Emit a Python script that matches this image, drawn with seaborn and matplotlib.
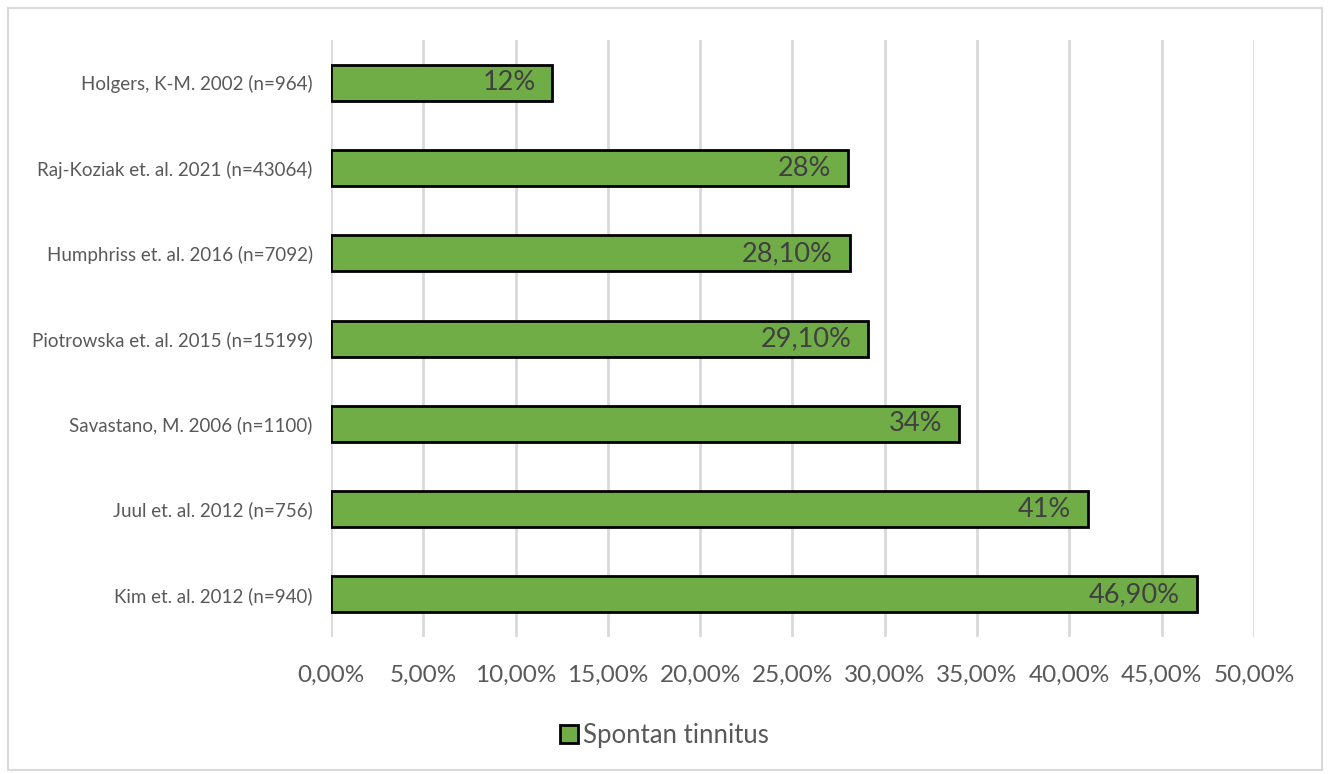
import matplotlib
matplotlib.use("Agg")
import matplotlib.pyplot as plt
import seaborn as sns
import pandas as pd
from matplotlib.patches import Patch, Rectangle
from matplotlib.ticker import FuncFormatter

categories = [
    "Holgers, K-M. 2002 (n=964)",
    "Raj-Koziak et. al. 2021 (n=43064)",
    "Humphriss et. al. 2016 (n=7092)",
    "Piotrowska et. al. 2015 (n=15199)",
    "Savastano, M. 2006 (n=1100)",
    "Juul et. al. 2012 (n=756)",
    "Kim et. al. 2012 (n=940)",
]
values = [0.12, 0.28, 0.281, 0.291, 0.34, 0.41, 0.469]
value_labels = ["12%", "28%", "28,10%", "29,10%", "34%", "41%", "46,90%"]
series_name = "Spontan tinnitus"
x_ticks = [0.0, 0.05, 0.10, 0.15, 0.20, 0.25, 0.30, 0.35, 0.40, 0.45, 0.50]

sns.set_theme(style="white")
plt.rcParams['font.family'] = ['Lato', 'DejaVu Sans']

df = pd.DataFrame({"study": categories, "value": values})

fig = plt.figure(figsize=(13.29, 7.74), dpi=100)
ax = fig.add_axes([0.249, 0.177, 0.6946, 0.771])

green = "#70AD47"
sns.barplot(data=df, x="value", y="study", orient="h", color=green,
            edgecolor="black", linewidth=2, width=0.42, ax=ax, zorder=3)
for p in ax.patches:
    p.set_facecolor(green)
    p.set_alpha(1)

ax.set_xlim(0, 0.5)
ax.set_ylim(6.5, -0.5)
ax.set_xticks(x_ticks)
ax.xaxis.set_major_formatter(FuncFormatter(lambda v, pos: f"{v*100:.2f}%".replace(".", ",")))
ax.grid(axis="x", color="#d9d9d9", linewidth=2, zorder=0)
ax.grid(axis="y", visible=False)
for s in ax.spines.values():
    s.set_visible(False)
ax.tick_params(axis="x", length=0, pad=20, labelsize=17.5, labelcolor="#595959")
ax.tick_params(axis="y", length=0, pad=13, labelsize=13.5, labelcolor="#595959")
ax.set_xlabel("")
ax.set_ylabel("")

for i, (v, lab) in enumerate(zip(values, value_labels)):
    ax.annotate(lab, xy=(v, i), xytext=(-12, 0), textcoords="offset points",
                ha="right", va="center", fontsize=19.5, color="#404040", zorder=4)

handles = [Patch(facecolor=green, edgecolor="black", linewidth=2, label=series_name)]
fig.legend(handles=handles, loc="center", bbox_to_anchor=(0.5, 0.05), frameon=False,
           fontsize=18.5, labelcolor="#595959", handlelength=0.7, handleheight=0.7,
           handletextpad=0.2)

fig.patches.append(Rectangle((0.006, 0.005), 0.989, 0.985, transform=fig.transFigure,
                             fill=False, edgecolor="#d9d9d9", linewidth=1.5))

fig.savefig("out.png", dpi=100, facecolor="white")
